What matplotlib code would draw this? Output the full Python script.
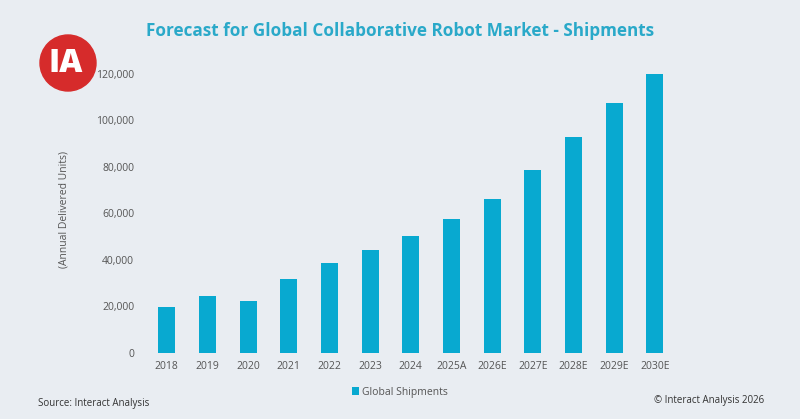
import numpy as np
import matplotlib.pyplot as plt
from matplotlib.patches import Circle

plt.rcParams['font.family'] = ['Open Sans', 'DejaVu Sans']

years = ["2018", "2019", "2020", "2021", "2022", "2023", "2024",
         "2025A", "2026E", "2027E", "2028E", "2029E", "2030E"]
shipments = [19800, 24300, 22500, 31800, 38700, 44300, 50400,
             57700, 66200, 78500, 92600, 107400, 120000]
yticks = [0, 20000, 40000, 60000, 80000, 100000, 120000]

bg = '#e9edf2'
bar_color = '#08a9d0'
title_color = '#2aa9c9'
text_color = '#555555'

fig = plt.figure(figsize=(8, 4.19), dpi=100, facecolor=bg)
ax = fig.add_axes([0.178, 0.1575, 0.671, 0.6945], facecolor=bg)

x = np.arange(len(years))
ax.bar(x, shipments, width=0.42, color=bar_color, label='Global Shipments')

ax.set_xlim(-0.6, len(years) - 0.4)
ax.set_ylim(0, 125000)
ax.set_xticks(x)
ax.set_xticklabels(years, fontsize=7.5, color=text_color)
ax.set_yticks(yticks)
ax.set_yticklabels([f"{v:,}" for v in yticks], fontsize=7.5, color=text_color)
ax.tick_params(length=0, pad=6)
for s in ax.spines.values():
    s.set_visible(False)

fig.text(0.08, 0.50, '(Annual Delivered Units)', rotation=90, fontsize=7.5,
         color=text_color, ha='center', va='center')

fig.text(0.5, 0.925, 'Forecast for Global Collaborative Robot Market - Shipments',
         fontsize=12.3, fontweight='bold', color=title_color, ha='center', va='center')

# legend
leg = fig.legend(loc='center', bbox_to_anchor=(0.5, 0.064), frameon=False,
                 fontsize=7.5, handlelength=0.7, handleheight=0.7, handletextpad=0.3)
for t in leg.get_texts():
    t.set_color(text_color)

fig.text(0.047, 0.036, 'Source: Interact Analysis', fontsize=7, color='#333333',
         ha='left', va='center')
fig.text(0.955, 0.043, '\u00a9 Interact Analysis 2026', fontsize=7, color='#333333',
         ha='right', va='center')

# logo
logo = Circle((68, 419 - 63), 28, transform=None, color='#d62b2b', zorder=5)
fig.patches.append(logo)
fig.text(66 / 800, 1 - 64 / 419, 'IA', fontsize=23, fontweight='heavy', color='white',
         ha='center', va='center', zorder=6)

fig.savefig('out.png', dpi=100, facecolor=bg)
